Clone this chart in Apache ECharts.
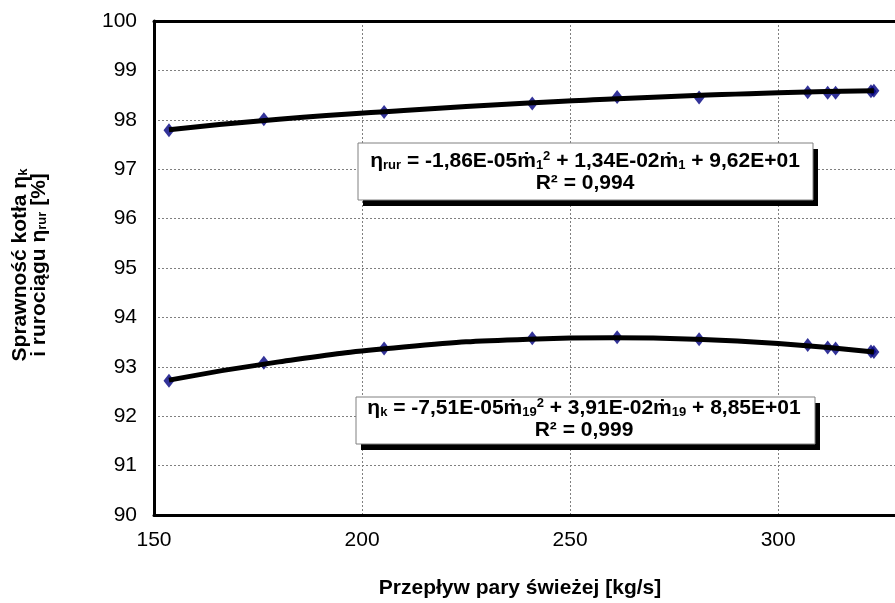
<!DOCTYPE html>
<html>
<head>
<meta charset="utf-8">
<script src="https://cdn.jsdelivr.net/npm/echarts@6/dist/echarts.min.js"></script>
<style>
html,body{margin:0;padding:0;background:#fff;}
#c{width:895px;height:603px;}
</style>
</head>
<body>
<div id="c"></div>
<script>
// Measured points: x = steam flow [kg/s]
var flowX   = [153.6, 176.4, 205.3, 240.9, 261.3, 281.0, 307.1, 311.9, 313.8, 322.3, 323.0];
var etaRur  = [97.79, 98.01, 98.16, 98.33, 98.46, 98.45, 98.56, 98.55, 98.55, 98.58, 98.59];
var etaK    = [92.72, 93.08, 93.37, 93.58, 93.60, 93.56, 93.44, 93.39, 93.37, 93.31, 93.30];
// Trend lines
var trendX   = [153.6, 180, 210, 240, 260, 280, 300, 323.0];
var trendRur = [97.80, 98.01, 98.19, 98.34, 98.42, 98.49, 98.55, 98.59];
var trendK   = [92.73, 93.10, 93.40, 93.56, 93.59, 93.56, 93.47, 93.30];
// Axis ticks
var xTicks = {min:150, max:330, interval:50};
var yTicks = {min:90, max:100, interval:1};

var FF = '"Liberation Sans", Arial, sans-serif';
function pairs(xs, ys){ return xs.map(function(x,i){ return [x, ys[i]]; }); }

var eqRich = {
  b:   {fontFamily:FF, fontWeight:'bold', fontSize:21, lineHeight:22, fill:'#000'},
  sub: {fontFamily:FF, fontWeight:'bold', fontSize:13, lineHeight:13, verticalAlign:'bottom', fill:'#000'},
  sup: {fontFamily:FF, fontWeight:'bold', fontSize:13, lineHeight:13, verticalAlign:'top', fill:'#000'}
};

function eqBox(left, top, w, h, cx, cy, text){
  return [
    {type:'rect', shape:{x:left+5, y:top+6, width:w, height:h}, style:{fill:'#000'}, z:100},
    {type:'rect', shape:{x:left, y:top, width:w, height:h}, style:{fill:'#fff', stroke:'#808080', lineWidth:1}, z:101},
    {type:'text', x:cx, y:cy, z:102, style:{text:text, align:'center', verticalAlign:'middle', rich:eqRich}}
  ];
}

var chart = echarts.init(document.getElementById('c'), null, {renderer:'canvas'});
var graphics = []
  .concat(eqBox(358, 143, 455, 57, 585, 172,
    '{b|η}{sub|rur}{b| = -1,86E-05ṁ}{sub|1}{sup|2}{b| + 1,34E-02ṁ}{sub|1}{b| + 9,62E+01}\n{b|R² = 0,994}'))
  .concat(eqBox(356, 397, 459, 47, 584, 419,
    '{b|η}{sub|k}{b| = -7,51E-05ṁ}{sub|19}{sup|2}{b| + 3,91E-02ṁ}{sub|19}{b| + 8,85E+01}\n{b|R² = 0,999}'))
  .concat([
    {type:'text', x:30, y:265, rotation:Math.PI/2, z:50,
     style:{text:'{t|Sprawność kotła η}{s|k}\n{t|i rurociągu η}{s|rur}{t| [%]}', align:'center', verticalAlign:'middle',
       rich:{t:{fontFamily:FF, fontWeight:'bold', fontSize:21, lineHeight:19, fill:'#000'},
             s:{fontFamily:FF, fontWeight:'bold', fontSize:13, lineHeight:12, verticalAlign:'bottom', fill:'#000'}}}},
    {type:'text', x:520, y:588, z:50,
     style:{text:'Przepływ pary świeżej [kg/s]', align:'center', verticalAlign:'middle', font:'bold 21px '+FF, fill:'#000'}}
  ]);

chart.setOption({
  animation:false,
  backgroundColor:'#fff',
  grid:{left:154, top:21, width:749, height:494, outerBoundsMode:'none', containLabel:false, show:false},
  xAxis:[{type:'value', min:xTicks.min, max:xTicks.max, interval:xTicks.interval,
    axisLine:{show:true, lineStyle:{color:'#000', width:3}},
    axisTick:{show:false},
    axisLabel:{color:'#000', fontFamily:FF, fontSize:21, margin:15, showMaxLabel:false},
    splitLine:{show:true, lineStyle:{color:'#808080', width:1, type:[2,2]}}},
   {type:'value', position:'top', min:xTicks.min, max:xTicks.max, interval:xTicks.interval,
    axisLine:{show:true, onZero:false, lineStyle:{color:'#000', width:3}},
    axisTick:{show:false}, axisLabel:{show:false}, splitLine:{show:false}}],
  yAxis:{type:'value', min:yTicks.min, max:yTicks.max, interval:yTicks.interval,
    axisLine:{show:true, lineStyle:{color:'#000', width:3}},
    axisTick:{show:false},
    axisLabel:{color:'#000', fontFamily:FF, fontSize:21, margin:17},
    splitLine:{show:true, lineStyle:{color:'#808080', width:1, type:[2,2]}}},
  graphic:graphics,
  series:[
    {type:'scatter', data:pairs(flowX, etaRur), symbol:'diamond', symbolSize:[11,14], itemStyle:{color:'#000080'}, z:2},
    {type:'scatter', data:pairs(flowX, etaK), symbol:'diamond', symbolSize:[11,14], itemStyle:{color:'#000080'}, z:2},
    {type:'line', data:pairs(trendX, trendRur), smooth:true, showSymbol:false, lineStyle:{color:'#000', width:5}, z:3},
    {type:'line', data:pairs(trendX, trendK), smooth:true, showSymbol:false, lineStyle:{color:'#000', width:5}, z:3}
  ]
});
</script>
</body>
</html>
